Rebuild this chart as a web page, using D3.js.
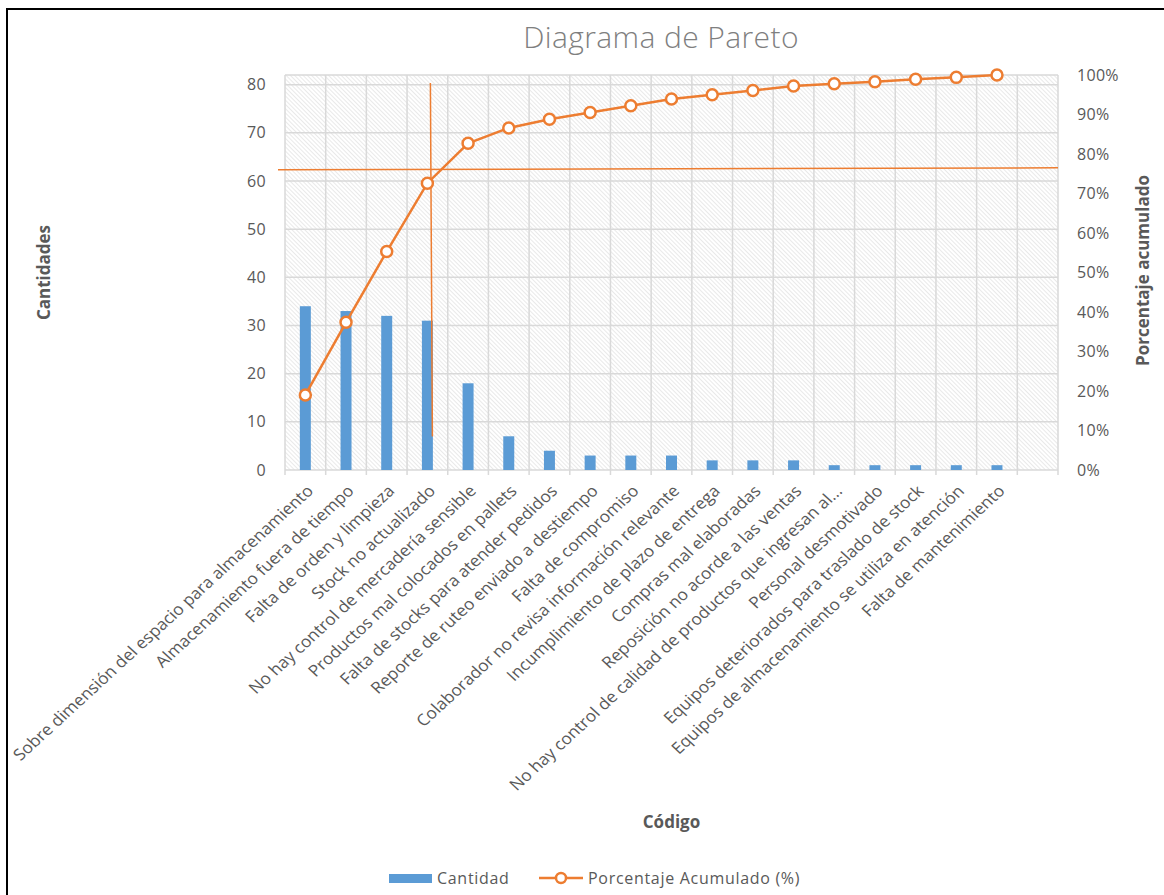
<!DOCTYPE html>
<html>
<head>
<meta charset="utf-8">
<script src="https://cdn.jsdelivr.net/npm/d3@7"></script>
<style>
  body { margin: 0; background: #fff; }
  text { font-family: "Open Sans", sans-serif; }
</style>
</head>
<body>
<div id="chart"></div>
<script>
var categories = [
  "Sobre dimensión del espacio para almacenamiento",
  "Almacenamiento fuera de tiempo",
  "Falta de orden y limpieza",
  "Stock no actualizado",
  "No hay control de mercadería sensible",
  "Productos mal colocados en pallets",
  "Falta de stocks para atender pedidos",
  "Reporte de ruteo enviado a destiempo",
  "Falta de compromiso",
  "Colaborador no revisa información relevante",
  "Incumplimiento de plazo de entrega",
  "Compras mal elaboradas",
  "Reposición no acorde a las ventas",
  "No hay control de calidad de productos que ingresan al...",
  "Personal desmotivado",
  "Equipos deteriorados para traslado de stock",
  "Equipos de almacenamiento se utiliza en atención",
  "Falta de mantenimiento",
  ""
];
var cantidad = [34, 33, 32, 31, 18, 7, 4, 3, 3, 3, 2, 2, 2, 1, 1, 1, 1, 1, null];
var porcentajeAcumulado = [19.0, 37.4, 55.3, 72.6, 82.7, 86.6, 88.8, 90.5, 92.2, 93.9, 95.0, 96.1, 97.2, 97.8, 98.3, 98.9, 99.4, 100, null];
var leftTicks = [0, 10, 20, 30, 40, 50, 60, 70, 80];
var rightTicks = [0, 0.1, 0.2, 0.3, 0.4, 0.5, 0.6, 0.7, 0.8, 0.9, 1];

// manual cut lines drawn over the chart (percent of right axis, category index)
var cutLine = {pctLeft: 0.76, pctRight: 0.765, category: 3, pctTop: 0.98, pctBottom: 0.085};

var W = 1164, H = 895;
var margin = {top: 75, left: 285},
    width = 773,
    height = 395;

var blue = "#5b9bd5", orange = "#ed7d31", grid = "#d9d9d9", textColor = "#595959";

var svg = d3.select("#chart").append("svg")
    .attr("width", W)
    .attr("height", H);

// outer frame (only top/left edges fall inside the picture)
svg.append("rect")
    .attr("x", 7).attr("y", 9)
    .attr("width", W + 20).attr("height", H + 20)
    .attr("fill", "none")
    .attr("stroke", "#000")
    .attr("stroke-width", 2);

var defs = svg.append("defs");
defs.append("pattern")
    .attr("id", "hatch")
    .attr("patternUnits", "userSpaceOnUse")
    .attr("width", 3)
    .attr("height", 10)
    .attr("patternTransform", "rotate(-45)")
  .append("line")
    .attr("x1", 0).attr("y1", 0)
    .attr("x2", 0).attr("y2", 10)
    .attr("stroke", "#d4d4d4")
    .attr("stroke-width", 1);

svg.append("text")
    .attr("x", 661)
    .attr("y", 48)
    .attr("text-anchor", "middle")
    .attr("font-size", 30)
    .attr("font-weight", 300)
    .attr("letter-spacing", 0.4)
    .attr("fill", "#7f7f7f")
    .text("Diagrama de Pareto");

var g = svg.append("g")
    .attr("transform", `translate(${margin.left},${margin.top})`);

var x = d3.scaleBand()
    .domain(categories)
    .range([0, width])
    .padding(0);

var yLeft = d3.scaleLinear()
    .domain([0, 82])
    .range([height, 0]);

var yRight = d3.scaleLinear()
    .domain([0, 1])
    .range([height, 0]);

var barW = x.bandwidth() * 0.27;

g.append("rect")
    .attr("width", width)
    .attr("height", height)
    .attr("fill", "url(#hatch)");

// horizontal gridlines + top edge
g.selectAll(".hgrid")
    .data(leftTicks.map(d => yLeft(d)).concat([0]))
  .enter().append("line")
    .attr("class", "hgrid")
    .attr("x1", 0).attr("x2", width)
    .attr("y1", d => d).attr("y2", d => d)
    .attr("stroke", grid)
    .attr("stroke-width", 1.5);

// vertical gridlines on category boundaries, running into the tick marks
var bounds = categories.map(c => x(c)).concat([width]);
g.selectAll(".vgrid")
    .data(bounds)
  .enter().append("line")
    .attr("class", "vgrid")
    .attr("x1", d => d).attr("x2", d => d)
    .attr("y1", 0).attr("y2", height + 5)
    .attr("stroke", grid)
    .attr("stroke-width", 1.5);

var yAxisL = d3.axisLeft(yLeft).tickValues(leftTicks).tickSize(0).tickPadding(19);
var yAxisR = d3.axisRight(yRight).tickValues(rightTicks).tickSize(0).tickPadding(19)
    .tickFormat(d3.format(".0%"));

g.append("g").call(yAxisL);
g.append("g").attr("transform", `translate(${width},0)`).call(yAxisR);
g.selectAll(".domain").remove();
g.selectAll(".tick text")
    .attr("font-family", "Open Sans")
    .attr("font-size", 16)
    .attr("letter-spacing", 0.3)
    .attr("fill", textColor);

// bars
g.selectAll(".bar")
    .data(cantidad.map((v, i) => ({category: categories[i], value: v})).filter(d => d.value != null))
  .enter().append("rect")
    .attr("class", "bar")
    .attr("x", d => x(d.category) + x.bandwidth() / 2 - barW / 2)
    .attr("width", barW)
    .attr("y", d => yLeft(d.value))
    .attr("height", d => height - yLeft(d.value))
    .attr("fill", blue);

// category labels (slightly wider than tall, like the original capture)
g.selectAll(".xlabel")
    .data(categories)
  .enter().append("text")
    .attr("class", "xlabel")
    .attr("transform", d => `translate(${x(d) + x.bandwidth() / 2 + 9},${height + 22}) scale(1.09,1) rotate(-45)`)
    .attr("text-anchor", "end")
    .attr("font-size", 16)
    .attr("fill", textColor)
    .text(d => d);

// cut lines
g.append("line")
    .attr("x1", -7).attr("x2", width)
    .attr("y1", yRight(cutLine.pctLeft)).attr("y2", yRight(cutLine.pctRight))
    .attr("stroke", orange)
    .attr("stroke-width", 1.5);
var cx = x(categories[cutLine.category]) + x.bandwidth() / 2 + 3;
g.append("line")
    .attr("x1", cx).attr("x2", cx + 2)
    .attr("y1", yRight(cutLine.pctTop)).attr("y2", yRight(cutLine.pctBottom))
    .attr("stroke", orange)
    .attr("stroke-width", 1.5);

// cumulative line
var pts = porcentajeAcumulado.map((v, i) => ({category: categories[i], value: v})).filter(d => d.value != null);
var line = d3.line()
    .x(d => x(d.category) + x.bandwidth() / 2)
    .y(d => yRight(d.value / 100));

g.append("path")
    .datum(pts)
    .attr("d", line)
    .attr("fill", "none")
    .attr("stroke", orange)
    .attr("stroke-width", 2.5);

g.selectAll(".dot")
    .data(pts)
  .enter().append("circle")
    .attr("class", "dot")
    .attr("cx", d => x(d.category) + x.bandwidth() / 2)
    .attr("cy", d => yRight(d.value / 100))
    .attr("r", 5.5)
    .attr("fill", "#fff")
    .attr("stroke", orange)
    .attr("stroke-width", 2.5);

// axis titles
svg.append("text")
    .attr("transform", `translate(50,${margin.top + height / 2}) rotate(-90)`)
    .attr("text-anchor", "middle")
    .attr("font-size", 17)
    .attr("font-weight", "bold")
    .attr("fill", textColor)
    .text("Cantidades");

svg.append("text")
    .attr("transform", `translate(1149,${margin.top + height / 2 - 2}) rotate(-90)`)
    .attr("text-anchor", "middle")
    .attr("font-size", 17)
    .attr("font-weight", "bold")
    .attr("fill", textColor)
    .text("Porcentaje acumulado");

svg.append("text")
    .attr("x", margin.left + width / 2)
    .attr("y", 828)
    .attr("text-anchor", "middle")
    .attr("font-size", 17)
    .attr("font-weight", "bold")
    .attr("fill", textColor)
    .text("Código");

// legend
var legend = svg.append("g").attr("transform", "translate(389,878)");
legend.append("rect")
    .attr("x", 0).attr("y", -4)
    .attr("width", 43).attr("height", 9)
    .attr("fill", blue);
legend.append("text")
    .attr("x", 48).attr("y", 6)
    .attr("font-size", 16)
    .attr("letter-spacing", 0.7)
    .attr("fill", textColor)
    .text("Cantidad");
legend.append("line")
    .attr("x1", 150).attr("x2", 194)
    .attr("y1", 0).attr("y2", 0)
    .attr("stroke", orange)
    .attr("stroke-width", 2.5);
legend.append("circle")
    .attr("cx", 172).attr("cy", 0)
    .attr("r", 5)
    .attr("fill", "#fff")
    .attr("stroke", orange)
    .attr("stroke-width", 2.5);
legend.append("text")
    .attr("x", 199).attr("y", 6)
    .attr("font-size", 16)
    .attr("letter-spacing", 0.7)
    .attr("fill", textColor)
    .text("Porcentaje Acumulado (%)");
</script>
</body>
</html>
